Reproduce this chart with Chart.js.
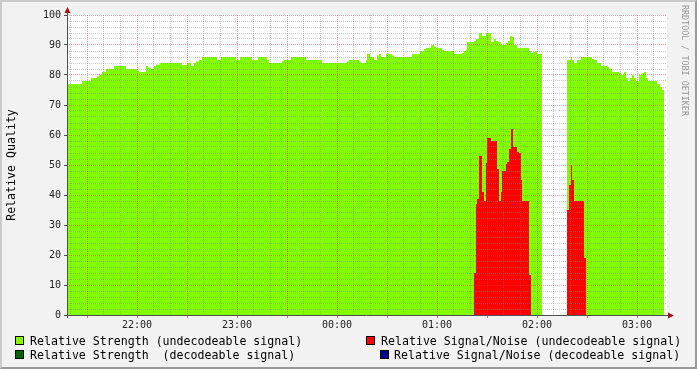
<!DOCTYPE html>
<html>
<head>
<meta charset="utf-8">
<script src="https://cdn.jsdelivr.net/npm/chart.js@4/dist/chart.umd.min.js"></script>
<style>
  html, body { margin: 0; padding: 0; }
  body { width: 697px; height: 369px; background: #f2f2f2; position: relative; overflow: hidden; font-family: "DejaVu Sans Mono", monospace; }
  #frame { position: absolute; left: 0; top: 0; width: 697px; height: 369px; box-sizing: border-box;
           border-top: 2px solid #cbcbcb; border-left: 2px solid #cbcbcb; border-right: 2px solid #999; border-bottom: 2px solid #999; pointer-events: none; }
  canvas { position: absolute; left: 0; top: 0; }
  .lg { position: absolute; font-size: 11.6px; line-height: 14px; color: #000; white-space: pre; }
  .sw { position: absolute; width: 7px; height: 7px; border: 1px solid #000; }
</style>
</head>
<body>
<canvas id="c" width="697" height="369"></canvas>
<div id="legend"></div>
<div id="frame"></div>
<script>
// ---- data (minutes after 21:00) ----
const strengthTimes = [
  18, 27, 32.4, 36, 37.2, 39, 41.4, 46.2, 53.4, 60,
  61.2, 65.4, 66.6, 68.4, 70.2, 71.4, 73.8, 87, 90, 92.4,
  94.2, 95.4, 97.2, 99, 108, 110.4, 119.4, 121.8, 129, 132.6,
  138, 139.2, 147, 148.2, 152.4, 161.4, 171, 186, 187.2, 193.2,
  194.4, 197.4, 198, 199.8, 202.2, 204, 205.2, 206.4, 209.4, 213,
  214.2, 225, 229.8, 232.2, 233.4, 236.4, 238.2, 239.4, 243, 244.2,
  250.2, 255, 256.2, 257.4, 258, 262.2, 263.4, 265.2, 267, 269.4,
  272.4, 274.2, 275.4, 276.6, 278.4, 281.4, 282.6, 283.8, 285, 286.2,
  288, 295.2, 296.4, 297.6, 298.8, 300, 303, 318, 320.4, 321,
  322.2, 324, 326.4, 333, 334.2, 336, 338.4, 342, 343.2, 345,
  349.2, 350.4, 352.2, 353.4, 354.6, 355.8, 357, 358.2, 359.4, 361.2,
  363, 364.2, 365.4, 366.6, 372, 373.8, 375, 376.2
];
const strengthValues = [
  77, 78, 79, 79.5, 80, 81, 82, 83, 82, 81.5,
  81, 83, 82.5, 82, 83, 83.5, 84, 83.3, 84, 83,
  84, 84.5, 85, 86, 85, 86, 85, 86, 85, 86,
  85, 84, 84.7, 85, 86, 85, 84, 84.5, 85, 84.5,
  84, 85, 87, 86, 85, 86.5, 87, 86, 87, 86.5,
  86, 87, 88, 88.7, 89, 90, 89.5, 89, 88.3, 88,
  87, 87.3, 88, 88.5, 91, 91.3, 92, 94, 93, 94,
  91, 92, 91.3, 91, 90, 90.7, 91.3, 93, 92.7, 90,
  89, 88, 87.3, 87.7, 88, 87, null, 85, 86, 85,
  84, 85, 86, 85.3, 85, 84, 83, 82.7, 82, 81,
  80.7, 80, 81, 79, 78, 79, 80, 79, 78, 80,
  80.7, 81, 79, 78, 77, 76, 75, null
];
const snrTimes = [
  262.2, 263.4, 264, 265.2, 267, 268.2, 269.4, 270, 272.4, 276,
  277.2, 278.4, 279, 281.4, 282, 283.2, 284.4, 285.6, 288, 289.2,
  290.4, 291, 295.2, 296.4,
  318, 319.2, 320.4, 321, 322.2, 328.2, 329.4
];
const snrValues = [
  14, 37, 38.7, 53, 41, 38, 50.7, 59, 58, 48.7,
  38, 41, 48, 50.3, 51, 55.3, 62, 56, 54.3, 54,
  45, 38, 13.3, null,
  35, 43.3, 50, 45, 38, 19, null
];
const hourTicks = [60, 120, 180, 240, 300, 360];
const hourLabels = ["22:00", "23:00", "00:00", "01:00", "02:00", "03:00"];
const legendLabels = [
  "Relative Strength (undecodeable signal)",
  "Relative Signal/Noise (undecodeable signal)",
  "Relative Strength  (decodeable signal)",
  "Relative Signal/Noise (decodeable signal)"
];
const legendColors = ["#80ff00", "#ff0000", "#006400", "#00008b"];

// ---- build step data ----
function steps(times, vals) {
  const out = [];
  for (let i = 0; i < times.length; i++) {
    if (vals[i] === null) {
      if (i > 0 && vals[i - 1] !== null) out.push({ x: times[i], y: vals[i - 1] });
      out.push({ x: times[i], y: null });
    } else {
      out.push({ x: times[i], y: vals[i] });
    }
  }
  return out;
}

const MINOR = 'rgba(130,130,130,0.40)';
const MAJOR = 'rgba(210,60,60,0.45)';
const MONO = '"DejaVu Sans Mono", monospace';

const decor = {
  id: 'decor',
  beforeDatasetsDraw(chart) {
    const { ctx, chartArea: a } = chart;
    ctx.save();
    ctx.fillStyle = '#ffffff';
    ctx.fillRect(a.left, a.top, a.right - a.left, a.bottom - a.top);
    ctx.restore();
  },
  afterDraw(chart) {
    const { ctx, chartArea: a } = chart;
    ctx.save();
    ctx.strokeStyle = '#505050';
    ctx.lineWidth = 1;
    ctx.beginPath();
    ctx.moveTo(a.left - 3, a.bottom + 0.5);
    ctx.lineTo(a.right + 2, a.bottom + 0.5);
    ctx.moveTo(a.left + 0.5, a.bottom + 3);
    ctx.lineTo(a.left + 0.5, a.top - 2);
    ctx.stroke();
    ctx.fillStyle = '#a01515';
    ctx.beginPath();
    ctx.moveTo(a.right + 7, a.bottom + 0.5);
    ctx.lineTo(a.right + 1, a.bottom - 2.5);
    ctx.lineTo(a.right + 1, a.bottom + 3.5);
    ctx.closePath();
    ctx.fill();
    ctx.beginPath();
    ctx.moveTo(a.left + 0.5, a.top - 8);
    ctx.lineTo(a.left - 2.5, a.top - 2);
    ctx.lineTo(a.left + 3.5, a.top - 2);
    ctx.closePath();
    ctx.fill();
    // watermark
    ctx.translate(684, 5);
    ctx.rotate(Math.PI / 2);
    ctx.font = '8.4px ' + MONO;
    ctx.fillStyle = 'rgba(120,120,120,0.75)';
    ctx.textBaseline = 'middle';
    ctx.textAlign = 'left';
    ctx.fillText('RRDTOOL / TOBI OETIKER', 0, 0);
    ctx.restore();
  }
};

new Chart(document.getElementById('c'), {
  type: 'line',
  data: {
    datasets: [
      {
        label: legendLabels[1],
        data: steps(snrTimes, snrValues),
        stepped: 'before',
        backgroundColor: legendColors[1],
        borderColor: legendColors[1],
        borderWidth: 0,
        pointRadius: 0,
        fill: 'origin',
        spanGaps: false,
        order: 0
      },
      {
        label: legendLabels[0],
        data: steps(strengthTimes, strengthValues),
        stepped: 'before',
        backgroundColor: legendColors[0],
        borderColor: legendColors[0],
        borderWidth: 0,
        pointRadius: 0,
        fill: 'origin',
        spanGaps: false,
        order: 1
      }
    ]
  },
  options: {
    responsive: false,
    animation: false,
    devicePixelRatio: 1,
    layout: { padding: { top: 15, right: 30, bottom: 34, left: 0 } },
    plugins: { legend: { display: false }, tooltip: { enabled: false } },
    scales: {
      x: {
        type: 'linear',
        min: 18,
        max: 378,
        afterBuildTicks: s => {
          const t = [];
          for (let v = 20; v <= 370; v += 10) t.push({ value: v });
          s.ticks = t;
        },
        afterFit: s => { s.height = 20; },
        ticks: {
          autoSkip: false,
          maxRotation: 0,
          padding: 1,
          color: '#222',
          font: { family: MONO, size: 10 },
          callback: v => {
            const i = hourTicks.indexOf(v);
            return i >= 0 ? hourLabels[i] : '';
          }
        },
        grid: {
          z: 1,
          lineWidth: 1,
          color: c => (c.tick && c.tick.value % 30 === 0) ? MAJOR : MINOR,
          tickLength: 3,
          tickColor: c => (c.tick && c.tick.value % 30 === 0) ? '#d08080' : 'rgba(0,0,0,0)'
        },
        border: { display: false, dash: [1, 1] }
      },
      y: {
        type: 'linear',
        min: 0,
        max: 100,
        afterBuildTicks: s => {
          const t = [];
          for (let v = 0; v <= 100; v += 2) t.push({ value: v });
          s.ticks = t;
        },
        afterFit: s => { s.width = 67; },
        ticks: {
          autoSkip: false,
          padding: 3,
          color: '#222',
          font: { family: MONO, size: 10 },
          callback: v => (v % 10 === 0 ? String(v) : '')
        },
        grid: {
          z: 1,
          lineWidth: 1,
          color: c => (c.tick && c.tick.value % 10 === 0) ? MAJOR : MINOR,
          tickLength: 3,
          tickColor: c => (c.tick && c.tick.value % 10 === 0) ? '#505050' : 'rgba(0,0,0,0)'
        },
        border: { display: false, dash: [1, 1] },
        title: {
          display: true,
          text: 'Relative Quality',
          color: '#000',
          font: { family: MONO, size: 11.6 },
          padding: { top: 5, bottom: 0 }
        }
      }
    }
  },
  plugins: [decor]
});

// ---- legend (HTML text) ----
(function () {
  const lg = document.getElementById('legend');
  const items = [
    { i: 0, sw: 15, tx: 30, top: 334, align: 'left' },
    { i: 1, sw: 366, tx: 381, top: 334, align: 'left' },
    { i: 2, sw: 15, tx: 30, top: 348, align: 'left' },
    { i: 3, sw: 380, tx: 394, top: 348, align: 'left' }
  ];
  items.forEach(it => {
    const s = document.createElement('div');
    s.className = 'sw';
    s.style.left = it.sw + 'px';
    s.style.top = (it.top + 2) + 'px';
    s.style.background = legendColors[it.i];
    lg.appendChild(s);
    const t = document.createElement('div');
    t.className = 'lg';
    t.style.left = it.tx + 'px';
    t.style.top = it.top + 'px';
    t.textContent = legendLabels[it.i];
    lg.appendChild(t);
  });
})();
</script>
</body>
</html>
